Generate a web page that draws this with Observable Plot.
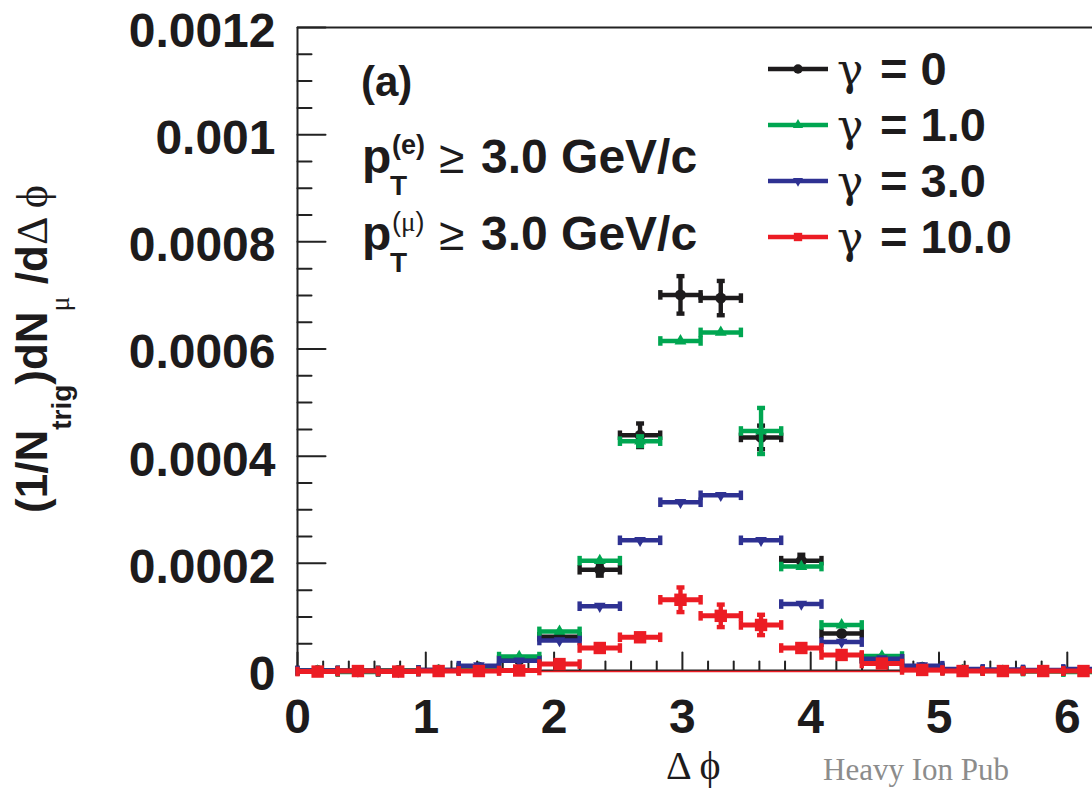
<!DOCTYPE html>
<html><head><meta charset="utf-8">
<script src="https://cdn.jsdelivr.net/npm/d3@7"></script>
<script src="https://cdn.jsdelivr.net/npm/@observablehq/plot@0.6"></script>
<style>html,body{margin:0;padding:0;background:#fff;overflow:hidden;}</style>
</head><body><div id="chart"></div>
<script>
// ---- data ----
const binCenters = [0.157,0.471,0.785,1.100,1.414,1.728,2.042,2.356,2.670,2.985,3.299,3.613,3.927,4.241,4.555,4.869,5.184,5.498,5.812,6.126];
const binHalfWidth = 0.157;

const gamma0    = [0,0,0,0.000001,0.000006,0.000020,0.000063,0.000188,0.000439,0.000701,0.000695,0.000435,0.000205,0.000069,0.000022,0.000006,0.000001,0,0,0];
const gamma0Err = [0.000003,0.000003,0.000003,0.000003,0.000004,0.000005,0.000007,0.000011,0.000022,0.000035,0.000032,0.000022,0.000011,0.000007,0.000005,0.000004,0.000003,0.000003,0.000003,0.000003];
const gamma1    = [-0.000001,-0.000003,-0.000002,0,0.000005,0.000026,0.000073,0.000205,0.000428,0.000615,0.000631,0.000447,0.000194,0.000085,0.000027,0.000004,0,-0.000001,-0.000002,-0.000003];
const gamma1Err = [0.000003,0.000003,0.000003,0.000003,0.000004,0.000005,0.000006,0.000007,0.000009,0.000006,0.000006,0.000043,0.000007,0.000006,0.000005,0.000004,0.000003,0.000003,0.000003,0.000003];
const gamma3    = [0,-0.000001,-0.000002,0.000001,0.000009,0.000018,0.000056,0.000120,0.000243,0.000314,0.000327,0.000243,0.000124,0.000053,0.000022,0.000009,0.000003,0.000002,0.000001,0.000003];
const gamma3Err = [0.000002,0.000002,0.000002,0.000002,0.000003,0.000003,0.000004,0.000005,0.000006,0.000006,0.000006,0.000006,0.000005,0.000004,0.000003,0.000003,0.000002,0.000002,0.000002,0.000002];
const gamma10    = [-0.000002,-0.000001,-0.000002,-0.000001,-0.000001,0,0.000012,0.000042,0.000062,0.000132,0.000102,0.000085,0.000042,0.000029,0.000013,0.000001,-0.000001,-0.000001,-0.000001,-0.000001];
const gamma10Err = [0.000002,0.000002,0.000002,0.000002,0.000002,0.000003,0.000004,0.000006,0.000006,0.000023,0.000021,0.000019,0.000006,0.000006,0.000004,0.000003,0.000002,0.000002,0.000002,0.000002];

const legendLabels = ["0","1.0","3.0","10.0"];
const xMajorTicks = [0,1,2,3,4,5,6];
const xTickLabels = ["0","1","2","3","4","5","6"];
const yMajorTicks = [0,0.0002,0.0004,0.0006,0.0008,0.001,0.0012];
const yTickLabels = ["0","0.0002","0.0004","0.0006","0.0008","0.001","0.0012"];
const xMinorTicks = d3.range(0, 6.19, 0.2).filter(v => Math.abs(v - Math.round(v)) > 1e-6);
const yMinorTicks = d3.range(0, 0.00121, 0.00005).filter((v,i) => i % 4 !== 0);

// ---- styles ----
const COLORS = ["#1d1b1c", "#00a651", "#2e3192", "#ec1c24"];
const SANS = "Liberation Sans, Arial, Helvetica, sans-serif";
const SERIF = "Liberation Serif, DejaVu Serif, Times New Roman, serif";
const GREEK = "DejaVu Serif, Liberation Serif, serif";

const seriesDefs = [
  {vals: gamma0,  errs: gamma0Err,  color: COLORS[0], symbol: "circle",   rotate: 0,   r: 5.5, hw: 4.5},
  {vals: gamma1,  errs: gamma1Err,  color: COLORS[1], symbol: "triangle", rotate: 0,   r: 4.4, hw: 4.5},
  {vals: gamma3,  errs: gamma3Err,  color: COLORS[2], symbol: "triangle", rotate: 180, r: 4.3, hw: 4.5},
  {vals: gamma10, errs: gamma10Err, color: COLORS[3], symbol: "square",   rotate: 0,   r: 7.0, hw: 5}
];

const capV = {draw(ctx){ ctx.rect(-2.2, -4.8, 4.4, 9.6); }};
const capH = {draw(ctx){ ctx.rect(-4, -2.2, 8, 4.4); }};
const tickShape = {draw(ctx, l){ ctx.moveTo(0, 0); ctx.lineTo(0, -l); }};

const marks = [];
// ticks
marks.push(Plot.vector(yMajorTicks, {x: () => 0, y: d => d, length: 28, rotate: 90, anchor: "start", shape: tickShape, stroke: "#222", strokeWidth: 2}));
marks.push(Plot.vector(yMinorTicks, {x: () => 0, y: d => d, length: 14, rotate: 90, anchor: "start", shape: tickShape, stroke: "#222", strokeWidth: 2}));
marks.push(Plot.vector(xMajorTicks, {x: d => d, y: () => 0, length: 18, rotate: 0, anchor: "start", shape: tickShape, stroke: "#222", strokeWidth: 2}));
marks.push(Plot.vector(xMinorTicks, {x: d => d, y: () => 0, length: 9, rotate: 0, anchor: "start", shape: tickShape, stroke: "#222", strokeWidth: 2}));
// frame lines
marks.push(Plot.ruleX([0], {stroke: "#222", strokeWidth: 2}));
marks.push(Plot.ruleY([0, 0.0012], {stroke: "#222", strokeWidth: 2}));
marks.push(Plot.ruleY([0], {stroke: COLORS[3], strokeWidth: 1.5, dy: 1}));
// axis labels
marks.push(Plot.axisX({ticks: xMajorTicks, tickFormat: (d, i) => xTickLabels[i], tickSize: 0, tickPadding: 28, fontSize: 48, fontWeight: "bold", fill: "#1d1b1c"}));
marks.push(Plot.axisY({ticks: yMajorTicks, tickFormat: (d, i) => yTickLabels[i], tickSize: 0, tickPadding: 22, dy: 4, fontSize: 48, fontWeight: "bold", fill: "#1d1b1c"}));

for (const s of seriesDefs) {
  const rows = binCenters.map((x, i) => ({x, lo: x - binHalfWidth, hi: x + binHalfWidth, y: s.vals[i], e: s.errs[i]}));
  const big = rows.filter(d => d.e > 0.0000085);
  marks.push(Plot.ruleY(rows, {y: "y", x1: "lo", x2: "hi", stroke: s.color, strokeWidth: s.hw}));
  marks.push(Plot.dot(rows, {x: "lo", y: "y", symbol: capV, fill: s.color, stroke: "none"}));
  marks.push(Plot.dot(rows, {x: "hi", y: "y", symbol: capV, fill: s.color, stroke: "none"}));
  marks.push(Plot.ruleX(big, {x: "x", y1: d => d.y - d.e, y2: d => d.y + d.e, stroke: s.color, strokeWidth: 4.4}));
  marks.push(Plot.dot(big, {x: "x", y: d => d.y + d.e, symbol: capH, fill: s.color, stroke: "none"}));
  marks.push(Plot.dot(big, {x: "x", y: d => d.y - d.e, symbol: capH, fill: s.color, stroke: "none"}));
  marks.push(Plot.dot(rows, {x: "x", y: "y", symbol: s.symbol, r: s.r, rotate: s.rotate, fill: s.color, stroke: "none"}));
}

const chart = Plot.plot({
  width: 1092, height: 788,
  marginLeft: 297, marginRight: 0, marginTop: 27, marginBottom: 118,
  x: {domain: [0, 795 / 128.3], label: null},
  y: {domain: [0, 0.0012], label: null},
  axis: null,
  style: {fontFamily: SANS, background: "white", color: "#1d1b1c"},
  marks
});
document.getElementById("chart").appendChild(chart);

// ---- annotations ----
const svg = d3.select(chart);
const ink = "#1d1b1c";
const txt = (x, y, size, opts = {}) => svg.append("text").attr("x", x).attr("y", y)
  .attr("text-anchor", opts.anchor || "start").attr("font-family", opts.family || SANS)
  .attr("font-size", size).attr("font-weight", opts.weight || "bold").attr("fill", opts.fill || ink);

// y label
const yl = svg.append("text").attr("transform", "translate(47,349) rotate(-90)")
  .attr("text-anchor", "middle").attr("font-family", SANS).attr("font-size", 44).attr("font-weight", "bold").attr("fill", ink);
yl.append("tspan").text("(1/N");
yl.append("tspan").attr("font-size", 28).attr("dy", 24).text("trig");
yl.append("tspan").attr("dy", -24).text(")dN");
yl.append("tspan").attr("font-size", 28).attr("font-weight", "normal").attr("font-family", SERIF).attr("dy", 22).text("μ");
yl.append("tspan").attr("dy", -22).text(" /d");
yl.append("tspan").attr("font-family", SERIF).attr("font-weight", "normal").text("Δ ϕ");

// x label
txt(666, 779, 40, {family: SERIF, weight: "normal"}).text("Δ ϕ");
// watermark
txt(823, 780, 31, {family: SERIF, weight: "normal", fill: "#8c8c8c"}).text("Heavy Ion Pub");

// (a) and cuts
txt(361, 96, 42).text("(a)");
const cutLines = [{base: 173, sup: "(e)"}, {base: 250, sup: "(μ)"}];
for (const c of cutLines) {
  txt(362, c.base, 48).text("p");
  const sp = txt(392, c.base - 19, 27, {weight: c.sup === "(μ)" ? "normal" : "bold"});
  if (c.sup === "(μ)") {
    sp.append("tspan").text("(");
    sp.append("tspan").attr("font-family", SERIF).text("μ");
    sp.append("tspan").text(")");
  } else sp.text(c.sup);
  txt(390, c.base + 22, 28).text("T");
  txt(439, c.base, 46, {weight: "normal"}).text("≥");
  txt(481, c.base, 48).text("3.0 GeV/c");
}

// legend
const legendY = [69, 125, 181, 237];
seriesDefs.forEach((s, i) => {
  const y = legendY[i];
  svg.append("line").attr("x1", 768).attr("x2", 828).attr("y1", y).attr("y2", y).attr("stroke", s.color).attr("stroke-width", 4.5);
  const sym = s.symbol === "circle" ? d3.symbolCircle : s.symbol === "square" ? d3.symbolSquare : d3.symbolTriangle;
  const size = s.symbol === "square" ? 70 : Math.PI * s.r * s.r * 0.75;
  svg.append("path").attr("d", d3.symbol(sym, size)()).attr("transform", `translate(798,${y}) rotate(${s.rotate})`).attr("fill", s.color);
  txt(837, y + 15.5, 44, {family: GREEK, weight: "normal"}).text("γ");
  txt(880, y + 15.5, 47).text("= " + legendLabels[i]);
});
</script>
</body></html>
